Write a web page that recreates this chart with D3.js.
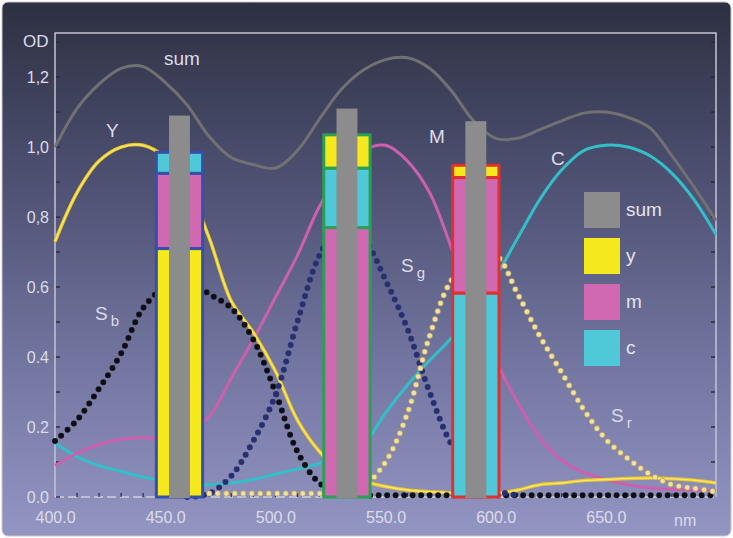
<!DOCTYPE html>
<html>
<head>
<meta charset="utf-8">
<script src="https://d3js.org/d3.v7.min.js"></script>
<style>
  body { margin: 0; background: #fff; }
  text { font-family: "Liberation Sans", Arial, sans-serif; }
</style>
</head>
<body>
<svg width="733" height="538"></svg>
<script>
// wavelength grid (nm)
const nm = [400,410,420,430,440,450,460,470,480,490,500,510,520,530,540,550,560,570,580,590,600,610,620,630,640,650,660,670,680,690,700];

// optical density curves
const sumOD = [1.0,1.11,1.18,1.225,1.23,1.185,1.12,1.03,0.97,0.95,0.94,0.99,1.08,1.165,1.22,1.25,1.255,1.225,1.16,1.075,1.025,1.025,1.05,1.075,1.097,1.10,1.085,1.055,0.975,0.886,0.79];
const yOD = [0.73,0.87,0.96,1.0,1.005,0.97,0.89,0.74,0.56,0.47,0.36,0.22,0.13,0.07,0.045,0.03,0.02,0.015,0.012,0.01,0.01,0.02,0.035,0.04,0.047,0.05,0.053,0.054,0.052,0.048,0.04];
const mOD = [0.09,0.125,0.15,0.165,0.17,0.17,0.19,0.23,0.34,0.45,0.57,0.69,0.83,0.93,0.99,1.005,0.96,0.87,0.71,0.53,0.39,0.27,0.17,0.105,0.07,0.05,0.035,0.026,0.022,0.02,0.018];
const cOD = [0.154,0.115,0.09,0.073,0.057,0.045,0.038,0.035,0.04,0.05,0.065,0.08,0.095,0.115,0.15,0.24,0.32,0.39,0.455,0.54,0.63,0.74,0.85,0.935,0.99,1.005,1.0,0.975,0.925,0.85,0.75];

// sensitivities (dotted)
const sB = [0.16,0.22,0.31,0.41,0.54,0.60,0.62,0.58,0.54,0.45,0.30,0.13,0.04,0.01,0.005,0.005,0.005,0.005,0.005,0.005,0.005,0.005,0.005,0.005,0.005,0.005,0.005,0.005,0.005,0.005,0.005];
const sG = [null,null,null,null,null,null,0.0,0.01,0.06,0.16,0.29,0.50,0.69,0.78,0.74,0.62,0.48,0.30,0.15,0.07,0.02,0.005,null,null,null,null,null,null,null,null,null];
const sR = [null,null,null,null,null,null,null,0.01,0.01,0.01,0.01,0.01,0.01,0.01,0.03,0.10,0.24,0.46,0.62,0.68,0.69,0.58,0.46,0.355,0.25,0.165,0.11,0.065,0.035,0.025,0.015];

// filter bars
const barCenters = [456.5, 532.5, 591];
const barY = [0.71, 0.095, 0.035];
const barM = [0.215, 0.77, 0.33];
const barC = [0.06, 0.17, 0.583];
const barSum = [1.09, 1.11, 1.074];
const barOrder = [["y","m","c"],["m","c","y"],["c","m","y"]];
const barEdge = ["#3550a8","#2aa055","#e03030"];

// axis labels
const yTicks = [0,0.2,0.4,0.6,0.8,1.0,1.2];
const yTickLabels = ["0.0","0.2","0.4","0.6","0,8","1,0","1,2"];
const xTicks = [400,450,500,550,600,650];
const xTickLabels = ["400.0","450.0","500.0","550.0","600.0","650.0"];
const legendKeys = ["sum","y","m","c"];

const fillCol = {y:"#f5e81c", m:"#d068b2", c:"#4fc8d8", sum:"#8c8c8c"};

const svg = d3.select("svg");
const defs = svg.append("defs");
const grad = defs.append("linearGradient").attr("id","bg").attr("x1",0).attr("y1",0).attr("x2",0).attr("y2",1);
grad.append("stop").attr("offset","0").attr("stop-color","#2d3041");
grad.append("stop").attr("offset","0.35").attr("stop-color","#4f5274");
grad.append("stop").attr("offset","0.7").attr("stop-color","#7578a3");
grad.append("stop").attr("offset","1").attr("stop-color","#9396c2");

svg.append("rect").attr("x",2).attr("y",2).attr("width",729).attr("height",534)
  .attr("rx",6).attr("fill","url(#bg)").attr("stroke","#c8c8d0").attr("stroke-width",1);

const x = d3.scaleLinear().domain([400,700]).range([55,716]);
const y = d3.scaleLinear().domain([0,1.326]).range([497,33]);

// frame
svg.append("path")
  .attr("d", `M${x(400)},${y(0)}V${y(1.326)}H${x(700)}V${y(0)}`)
  .attr("fill","none").attr("stroke","#c4c4d4").attr("stroke-width",1.5);
svg.append("line").attr("x1",x(400)).attr("x2",x(700)).attr("y1",y(0)).attr("y2",y(0))
  .attr("stroke","#d0d0dc").attr("stroke-width",1.5).attr("stroke-dasharray","9 4");

// ticks
const gy = svg.append("g").attr("transform",`translate(${x(400)},0)`)
  .call(d3.axisLeft(y).tickValues(yTicks).tickSize(0).tickPadding(6).tickFormat((d,i)=>yTickLabels[i]));
gy.select(".domain").remove();
gy.selectAll("text").attr("fill","#dcdce8").style("font-size","16px");

svg.append("g").selectAll("line").data(d3.range(0,1.31,0.1)).join("line")
  .attr("x1",x(400)+1).attr("x2",x(400)+5).attr("y1",d=>y(d)).attr("y2",d=>y(d))
  .attr("stroke","#2a2c3c").attr("stroke-width",1.5);
svg.append("g").selectAll("line").data(d3.range(0.1,1.31,0.1)).join("line")
  .attr("x1",x(700)-5).attr("x2",x(700)-1).attr("y1",d=>y(d)).attr("y2",d=>y(d))
  .attr("stroke","#2a2c3c").attr("stroke-width",1.5);

const gx = svg.append("g").attr("transform",`translate(0,${y(0)})`)
  .call(d3.axisBottom(x).tickValues(xTicks).tickSize(0).tickPadding(15).tickFormat((d,i)=>xTickLabels[i]));
gx.select(".domain").remove();
gx.selectAll("text").attr("fill","#dcdce8").style("font-size","16px");
svg.append("g").selectAll("line").data(d3.range(410,700,10)).join("line")
  .attr("x1",d=>x(d)).attr("x2",d=>x(d)).attr("y1",y(0)-4).attr("y2",y(0))
  .attr("stroke","#2a2c3c").attr("stroke-width",1.2);

// curves
const line = d3.line().defined(d=>d[1]!==null).x(d=>x(d[0])).y(d=>y(d[1])).curve(d3.curveCatmullRom.alpha(0.5));
const pts = arr => nm.map((n,i)=>[n,arr[i]]);

svg.append("path").attr("d",line(pts(sumOD))).attr("fill","none").attr("stroke","#717173").attr("stroke-width",3);
svg.append("path").attr("d",line(pts(cOD))).attr("fill","none").attr("stroke","#32c0c8").attr("stroke-width",3);
svg.append("path").attr("d",line(pts(mOD))).attr("fill","none").attr("stroke","#cc60ae").attr("stroke-width",3);
svg.append("path").attr("d",line(pts(yOD))).attr("fill","none").attr("stroke","#e8c628").attr("stroke-width",3.5);
svg.append("path").attr("d",line(pts(yOD))).attr("fill","none").attr("stroke","#fbe870").attr("stroke-width",1.3);

const dotted = (arr,col,edge) => {
  svg.append("path").attr("d",line(pts(arr))).attr("fill","none")
    .attr("stroke",edge).attr("stroke-width",6).attr("stroke-linecap","round").attr("stroke-dasharray","0 8.5");
  svg.append("path").attr("d",line(pts(arr))).attr("fill","none")
    .attr("stroke",col).attr("stroke-width",4.5).attr("stroke-linecap","round").attr("stroke-dasharray","0 8.5");
};
dotted(sB,"#0e0e12","#1a1a22");
dotted(sG,"#26306e","#2c3478");
dotted(sR,"#f2e2a0","#c0a868");

// bars
const wOuter = 21, wInner = 9.5;
const vals = {y:barY, m:barM, c:barC};
barCenters.forEach((cx,i)=>{
  const g = svg.append("g");
  let base = 0;
  barOrder[i].forEach(k=>{
    const v = vals[k][i];
    g.append("rect")
      .attr("x",x(cx-wOuter/2)).attr("width",x(cx+wOuter/2)-x(cx-wOuter/2))
      .attr("y",y(base+v)).attr("height",y(base)-y(base+v))
      .attr("fill",fillCol[k]).attr("stroke",barEdge[i]).attr("stroke-width",3);
    base += v;
  });
  g.append("rect")
    .attr("x",x(cx-wInner/2)).attr("width",x(cx+wInner/2)-x(cx-wInner/2))
    .attr("y",y(barSum[i])).attr("height",y(0)-y(barSum[i])+1)
    .attr("fill",fillCol.sum);
});

// legend
const lg = svg.append("g");
legendKeys.forEach((k,i)=>{
  lg.append("rect").attr("x",584).attr("y",192+i*46).attr("width",36).attr("height",36).attr("fill",fillCol[k]);
  lg.append("text").attr("x",626).attr("y",216+i*46).text(k)
    .attr("fill","#e4e4ee").style("font-size","19px");
});

// labels
const lab = (tx,ty,s,size) => svg.append("text").attr("x",tx).attr("y",ty).text(s)
  .attr("fill","#dcdce8").style("font-size",(size||18)+"px");
lab(23,47,"OD",17);
lab(164,65,"sum",19);
lab(106,137,"Y",19);
lab(429,143,"M",19);
lab(551,165,"C",19);
lab(674,526,"nm",16);
const sub = (tx,ty,s) => {
  const t = svg.append("text").attr("x",tx).attr("y",ty).attr("fill","#dcdce8").style("font-size","19px");
  t.append("tspan").text("S");
  t.append("tspan").attr("dx",3).attr("dy",6).style("font-size","15px").text(s);
};
sub(95,320,"b");
sub(401,272,"g");
sub(611,422,"r");
</script>
</body>
</html>
